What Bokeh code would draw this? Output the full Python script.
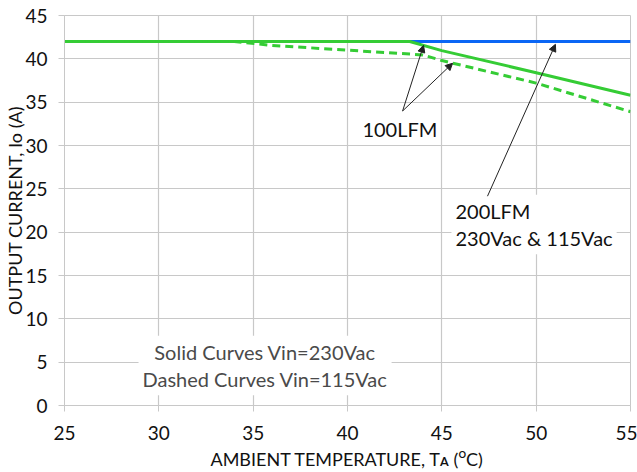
from bokeh.plotting import figure
from bokeh.models import Label, Arrow, NormalHead, FixedTicker, Range1d
from bokeh.embed import file_html
from bokeh.resources import INLINE

# ---- data ----
x_ticks = [25, 30, 35, 40, 45, 50, 55]
y_ticks = [0, 5, 10, 15, 20, 25, 30, 35, 40, 45]

temp_200lfm = [25, 55]
curr_200lfm = [42, 42]

temp_100lfm_230 = [25, 43.3, 45, 50, 55]
curr_100lfm_230 = [42, 42, 40.95, 38.4, 35.8]

temp_100lfm_115 = [25, 34, 36, 40, 44, 45, 50, 55]
curr_100lfm_115 = [42, 42, 41.55, 41.0, 40.45, 39.8, 37.2, 33.9]

# annotation anchors (data coords)
lbl_100 = (40.79, 31.86)
arrow_100_start = (42.92, 33.98)
arrow_100_ends = [(44.03, 41.56), (45.57, 39.49)]
lbl_200 = (45.51, 20.89)
arrow_200 = ((47.42, 24.15), (51.02, 41.67))
note_pos = (35.63, 4.62)

FONT = "Lato"
GRID = "#c8c8c8"

p = figure(width=637, height=472, output_backend="svg", toolbar_location=None,
           x_range=Range1d(25, 55), y_range=Range1d(0, 45),
           min_border_left=64, min_border_right=7, min_border_top=15,
           min_border_bottom=66, background_fill_color="white",
           border_fill_color="white", outline_line_color=GRID)

p.line(temp_200lfm, curr_200lfm, line_color="#0a66f5", line_width=3)
p.line(temp_100lfm_230, curr_100lfm_230, line_color="#35cc35", line_width=3)
p.line(temp_100lfm_115, curr_100lfm_115, line_color="#35cc35", line_width=3,
       line_dash="8 5")

for ax in (p.xaxis, p.yaxis):
    ax.axis_line_color = GRID
    ax.major_tick_line_color = GRID
    ax.major_tick_out = 6
    ax.major_tick_in = 0
    ax.minor_tick_line_color = None
    ax.major_label_text_font = FONT
    ax.major_label_text_font_size = "19px"
    ax.major_label_text_color = "#111111"
    ax.major_label_standoff = 14
    ax.axis_label_text_font = FONT
    ax.axis_label_text_font_style = "normal"
    ax.axis_label_text_color = "#111111"
    ax.axis_label_text_font_size = "18px"
p.xaxis.ticker = FixedTicker(ticks=x_ticks)
p.yaxis.ticker = FixedTicker(ticks=y_ticks)
p.xaxis.axis_label = "AMBIENT TEMPERATURE, T\u1d00 (\u1d3cC)"
p.yaxis.axis_label = "OUTPUT CURRENT, Io (A)"
p.xaxis.axis_label_standoff = 5
p.yaxis.major_label_standoff = 11
p.yaxis.axis_label_standoff = -4

p.grid.grid_line_color = GRID
p.grid.grid_line_width = 1.2
p.xgrid.ticker = FixedTicker(ticks=x_ticks)
p.ygrid.ticker = FixedTicker(ticks=y_ticks)

# annotations
p.add_layout(Label(x=lbl_100[0], y=lbl_100[1], text="100LFM", text_font=FONT,
                   text_font_size="20px", text_color="#111111",
                   text_baseline="middle", text_align="left"))
for (xe, ye) in arrow_100_ends:
    p.add_layout(Arrow(x_start=arrow_100_start[0], y_start=arrow_100_start[1],
                       x_end=xe, y_end=ye, line_width=1, line_color="#222222",
                       end=NormalHead(size=7, fill_color="#222222",
                                      line_color="#222222")))
p.add_layout(Label(x=lbl_200[0], y=lbl_200[1], text="200LFM\n230Vac & 115Vac",
                   text_font=FONT, text_font_size="20px", text_color="#111111",
                   text_baseline="middle", text_align="left", text_line_height=1.15,
                   background_fill_color="white", padding=4))
p.add_layout(Arrow(x_start=arrow_200[0][0], y_start=arrow_200[0][1],
                   x_end=arrow_200[1][0], y_end=arrow_200[1][1], line_width=1,
                   line_color="#222222",
                   end=NormalHead(size=7, fill_color="#222222", line_color="#222222")))
p.add_layout(Label(x=note_pos[0], y=note_pos[1],
                   text="Solid Curves Vin=230Vac\nDashed Curves Vin=115Vac",
                   text_font=FONT, text_font_size="20px", text_color="#4a4a4a",
                   text_baseline="middle", text_align="center", text_line_height=1.15,
                   background_fill_color="white", padding=4))

open("out.html", "w").write(file_html(p, INLINE))
